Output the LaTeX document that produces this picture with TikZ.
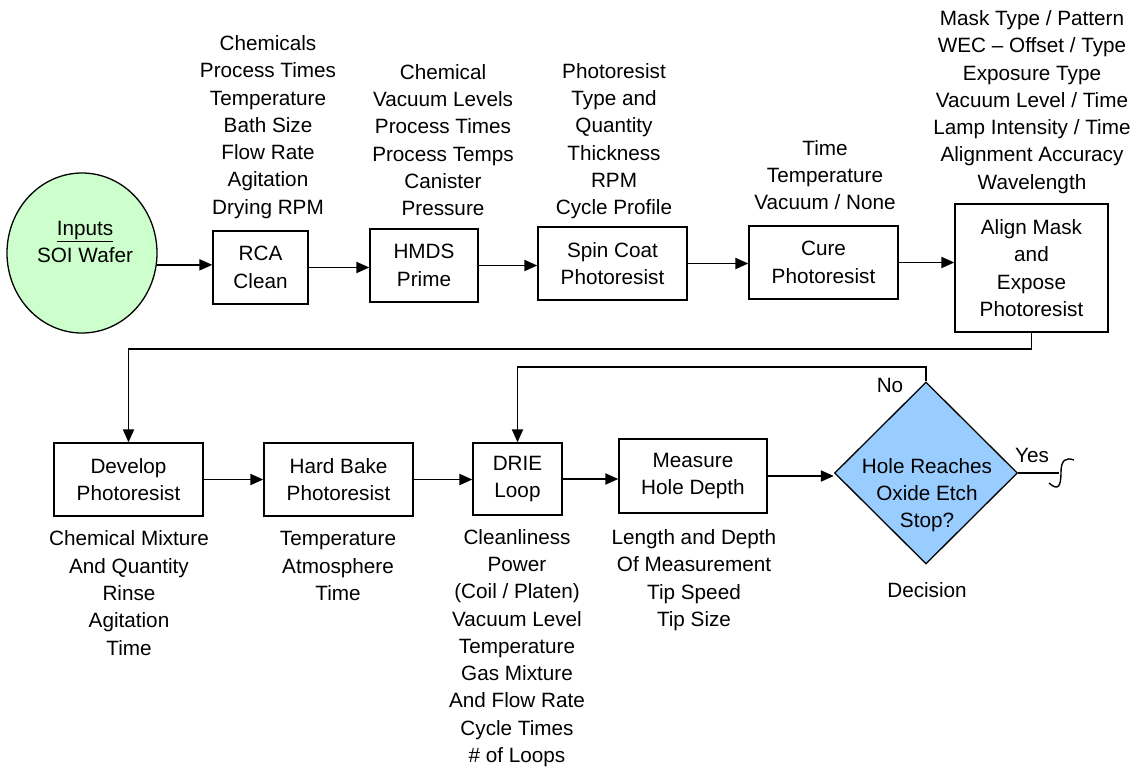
\documentclass[tikz,border=0pt]{standalone}
\usepackage{fontspec}
\setmainfont{Liberation Sans}
\usetikzlibrary{shapes.geometric,arrows.meta}
\definecolor{ingreen}{HTML}{CCFFCC}
\definecolor{decblue}{HTML}{99CCFF}
\tikzset{
  txt/.style={font=\fontsize{20.7}{27.3}\selectfont, align=center, inner sep=0pt},
  procbox/.style={draw, line width=1.3pt, txt, minimum width=#1, minimum height=73pt},
  arr/.style={line width=1.9pt, -{Triangle[length=13pt,width=11pt]}},
  ln/.style={line width=1.9pt},
}
\begin{document}
\begin{tikzpicture}[x=1pt,y=-1pt]
\useasboundingbox (0,0) rectangle (1144,769);
% start
\node[ellipse, draw, line width=1.3pt, fill=ingreen, minimum width=150pt, minimum height=160pt, inner sep=0pt] (in) at (82,253) {};
\node[txt] (intext) at (85,242) {\underline{Inputs}\\SOI Wafer};
% top row boxes
\node[procbox=95pt] (rca) at (260.5,267.5) {RCA\\Clean};
\node[procbox=108pt] (hmds) at (424,265.5) {HMDS\\Prime};
\node[procbox=149pt] (spin) at (612.5,263.5) {Spin Coat\\Photoresist};
\node[procbox=149pt] (cure) at (823.5,262.5) {Cure\\Photoresist};
\node[procbox=153pt, minimum height=128pt] (align) at (1031.5,268) {Align Mask\\and\\Expose\\Photoresist};
% bottom row boxes
\node[procbox=149pt] (dev) at (128.5,479.5) {Develop\\Photoresist};
\node[procbox=149pt] (hard) at (338.5,479.5) {Hard Bake\\Photoresist};
\node[procbox=89pt, minimum height=72pt] (drie) at (517.5,479) {DRIE\\Loop};
\node[procbox=148pt, minimum height=74pt] (meas) at (693,476) {Measure\\Hole Depth};
\node[diamond, draw, line width=1.3pt, fill=decblue, minimum width=183pt, minimum height=182pt, inner sep=0pt] (dec) at (926,473) {};
\node[txt] (dectext) at (927,495) {Hole Reaches\\Oxide Etch\\Stop?};
% parameter texts
\node[txt] (prca) at (268,127) {Chemicals\\Process Times\\Temperature\\Bath Size\\Flow Rate\\Agitation\\Drying RPM};
\node[txt] (phmds) at (443,140) {Chemical\\Vacuum Levels\\Process Times\\Process Temps\\Canister\\Pressure};
\node[txt] (pspin) at (614,141) {Photoresist\\Type and\\Quantity\\Thickness\\RPM\\Cycle Profile};
\node[txt] (pcure) at (825,175) {Time\\Temperature\\Vacuum / None};
\node[txt] (palign) at (1032,102) {Mask Type / Pattern\\WEC -- Offset / Type\\Exposure Type\\Vacuum Level / Time\\Lamp Intensity / Time\\Alignment Accuracy\\Wavelength};
\node[txt] (pdev) at (129,593) {Chemical Mixture\\And Quantity\\Rinse\\Agitation\\Time};
\node[txt] (phard) at (338,566) {Temperature\\Atmosphere\\Time};
\node[txt] (pdrie) at (517,648) {Cleanliness\\Power\\(Coil / Platen)\\Vacuum Level\\Temperature\\Gas Mixture\\And Flow Rate\\Cycle Times\\\# of Loops};
\node[txt] (pmeas) at (694,580) {Length and Depth\\Of Measurement\\Tip Speed\\Tip Size};
\node[txt] (pdec) at (927,590) {Decision};
\node[txt] (lno) at (890,385) {No};
\node[txt] (lyes) at (1032,455) {Yes};
% connectors
\draw[arr] (in.-9.2) -- (rca.west |- in.-9.2);
\draw[arr] (rca.east) -- (hmds.west |- rca.east);
\draw[arr] (hmds.east) -- (spin.west |- hmds.east);
\draw[arr] (spin.east) -- (cure.west |- spin.east);
\draw[arr] (cure.east) -- (align.west |- cure.east);
\coordinate (r1) at (0,349);
\draw[arr] (align.south) -- (align.south |- r1) -- (dev.north |- r1) -- (dev.north);
\draw[arr] (dev.east) -- (hard.west |- dev.east);
\draw[arr] (hard.east) -- (drie.west |- hard.east);
\draw[arr] (drie.east) -- (meas.west |- drie.east);
\draw[arr] (meas.east) -- (dec.west |- meas.east);
\coordinate (r2) at (0,367);
\draw[arr] (dec.north) -- (dec.north |- r2) -- (drie.north |- r2) -- (drie.north);
\coordinate (yend) at (1059,473);
\draw[ln] (dec.east) -- (yend);
\draw[line width=1.4pt] (1049,483) .. controls (1058,491) and (1061,487) .. (1061,472) .. controls (1061,460) and (1066,457) .. (1074,460);
\end{tikzpicture}
\end{document}
